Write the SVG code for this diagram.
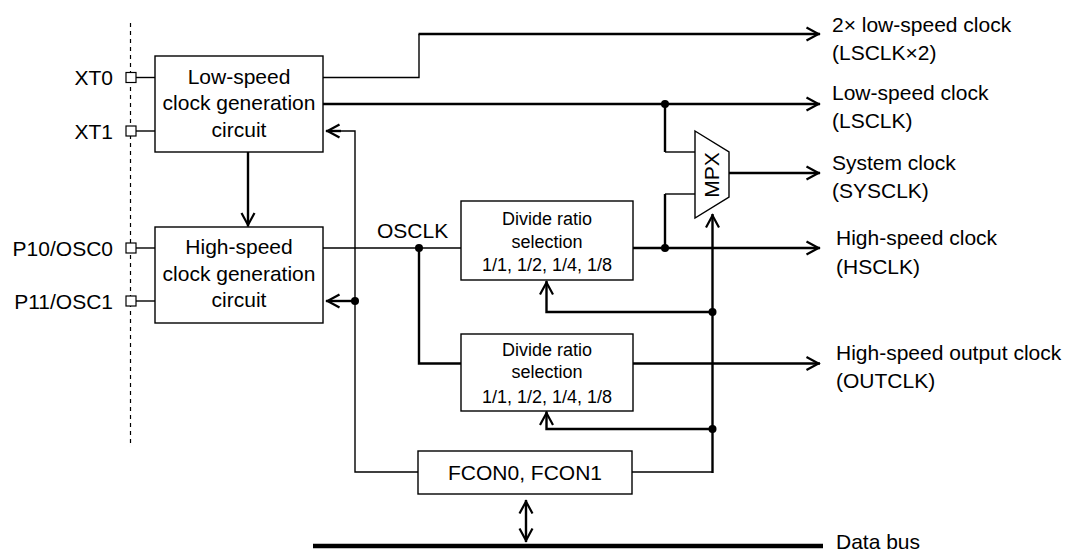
<svg xmlns="http://www.w3.org/2000/svg" width="1068" height="552" viewBox="0 0 1068 552">
<style>
text{font-family:"Liberation Sans",Arial,sans-serif;fill:#000}
.t{font-size:21px}
.s{font-size:18px}
.c{text-anchor:middle}
.e{text-anchor:end}
.box{fill:#fff;stroke:#000;stroke-width:1.4}
.pin{fill:#fff;stroke:#000;stroke-width:1.2}
.thin{fill:none;stroke:#000;stroke-width:1.4}
.thick{fill:none;stroke:#000;stroke-width:2.4}
.bus{fill:none;stroke:#000;stroke-width:4.5}
.dot{fill:#000}
.arr{marker-end:url(#ah)}
</style>
<defs>
<marker id="ah" viewBox="-16 -9 18 18" refX="0" refY="0" markerWidth="18" markerHeight="18" markerUnits="userSpaceOnUse" orient="auto-start-reverse">
<path d="M-13.5,-6.5 L-1.5,0 L-13.5,6.5" fill="none" stroke="#000" stroke-width="2.2"/>
</marker>
</defs>
<rect width="1068" height="552" fill="#fff"/>

<g id="chip-boundary">
<line x1="130.5" y1="23" x2="130.5" y2="446" stroke="#000" stroke-width="1.2" stroke-dasharray="4,4"/>
</g>

<g id="connectors">
<line class="thin" x1="136" y1="77.5" x2="155" y2="77.5"/>
<line class="thin" x1="136" y1="131" x2="155" y2="131"/>
<line class="thin" x1="136" y1="248" x2="155" y2="248"/>
<line class="thin" x1="136" y1="301" x2="155" y2="301"/>
<polyline class="thin" points="323,77.5 419,77.5 419,34"/>
<line class="thick arr" x1="418.5" y1="34" x2="820" y2="34"/>
<line class="thick arr" x1="323" y1="104" x2="820" y2="104"/>
<line class="thick" x1="665" y1="104" x2="665" y2="152"/>
<line class="thin" x1="665" y1="152" x2="695" y2="152"/>
<line class="thick" x1="665" y1="248" x2="665" y2="194"/>
<line class="thin" x1="665" y1="194" x2="695" y2="194"/>
<line class="thick arr" x1="729" y1="173" x2="820" y2="173"/>
<line class="thick arr" x1="633" y1="248" x2="820" y2="248"/>
<line class="thin" x1="323" y1="248" x2="461" y2="248"/>
<polyline class="thick" points="419,248 419,363.5 461,363.5"/>
<line class="thick arr" x1="633" y1="363.5" x2="820" y2="363.5"/>
<line class="thin" x1="632" y1="472" x2="712.5" y2="472"/>
<line class="thick arr" x1="712.5" y1="473" x2="712.5" y2="214"/>
<polyline class="thick arr" points="712.5,312 546.5,312 546.5,281"/>
<polyline class="thick arr" points="712.5,429 546.5,429 546.5,411.5"/>
<polyline class="thin" points="418,472 355,472 355,131 340,131"/>
<line class="thick arr" x1="341" y1="131" x2="326" y2="131"/>
<line class="thick arr" x1="355" y1="301" x2="326" y2="301"/>
<line class="thick arr" x1="248" y1="152" x2="248" y2="226.5"/>
<line class="thick" x1="526" y1="500" x2="526" y2="542" marker-start="url(#ah)" marker-end="url(#ah)"/>
<circle class="dot" cx="665" cy="104" r="4"/>
<circle class="dot" cx="665" cy="248" r="4"/>
<circle class="dot" cx="419" cy="248" r="4"/>
<circle class="dot" cx="712.5" cy="312" r="4"/>
<circle class="dot" cx="712.5" cy="429" r="4"/>
<circle class="dot" cx="355" cy="301" r="4"/>
</g>

<g id="pin-xt0">
<rect class="pin" x="126" y="72.5" width="10" height="10"/>
<text class="t e" x="113" y="85">XT0</text>
</g>
<g id="pin-xt1">
<rect class="pin" x="126" y="126" width="10" height="10"/>
<text class="t e" x="113" y="139">XT1</text>
</g>
<g id="pin-osc0">
<rect class="pin" x="126" y="243" width="10" height="10"/>
<text class="t e" x="113" y="255.5">P10/OSC0</text>
</g>
<g id="pin-osc1">
<rect class="pin" x="126" y="296" width="10" height="10"/>
<text class="t e" x="113" y="308.5">P11/OSC1</text>
</g>

<g id="low-speed-gen">
<rect class="box" x="155" y="56" width="168" height="96"/>
<text class="t c" x="239" y="84">Low-speed</text>
<text class="t c" x="239" y="110">clock generation</text>
<text class="t c" x="239" y="136.5">circuit</text>
</g>

<g id="high-speed-gen">
<rect class="box" x="155" y="227" width="168" height="96"/>
<text class="t c" x="239" y="253.5">High-speed</text>
<text class="t c" x="239" y="280.5">clock generation</text>
<text class="t c" x="239" y="307">circuit</text>
</g>

<g id="osclk-label">
<text class="t" x="377" y="238">OSCLK</text>
</g>

<g id="divider-1">
<rect class="box" x="461" y="201" width="172" height="79"/>
<text class="s c" x="547" y="224.5">Divide ratio</text>
<text class="s c" x="547" y="247.5">selection</text>
<text class="s c" x="547" y="271">1/1, 1/2, 1/4, 1/8</text>
</g>

<g id="divider-2">
<rect class="box" x="461" y="334" width="172" height="77"/>
<text class="s c" x="547" y="355.5">Divide ratio</text>
<text class="s c" x="547" y="377.5">selection</text>
<text class="s c" x="547" y="402.5">1/1, 1/2, 1/4, 1/8</text>
</g>

<g id="fcon">
<rect class="box" x="418" y="451" width="214" height="43"/>
<text class="t c" x="525" y="480">FCON0, FCON1</text>
</g>

<g id="mpx">
<polygon class="box" points="695,131 729,152 729,197 695,218"/>
<text class="t c" transform="translate(719,175) rotate(-90)" x="0" y="0">MPX</text>
</g>

<g id="out-lsclk2">
<text class="t" x="832" y="32">2× low-speed clock</text>
<text class="t" x="832" y="60">(LSCLK×2)</text>
</g>
<g id="out-lsclk">
<text class="t" x="832" y="100">Low-speed clock</text>
<text class="t" x="832" y="128">(LSCLK)</text>
</g>
<g id="out-sysclk">
<text class="t" x="832" y="170">System clock</text>
<text class="t" x="832" y="198">(SYSCLK)</text>
</g>
<g id="out-hsclk">
<text class="t" x="836" y="245">High-speed clock</text>
<text class="t" x="836" y="273.5">(HSCLK)</text>
</g>
<g id="out-outclk">
<text class="t" x="836" y="360">High-speed output clock</text>
<text class="t" x="836" y="388">(OUTCLK)</text>
</g>

<g id="data-bus">
<line class="bus" x1="313" y1="546" x2="823" y2="546"/>
<text class="t" x="836" y="549">Data bus</text>
</g>
</svg>
